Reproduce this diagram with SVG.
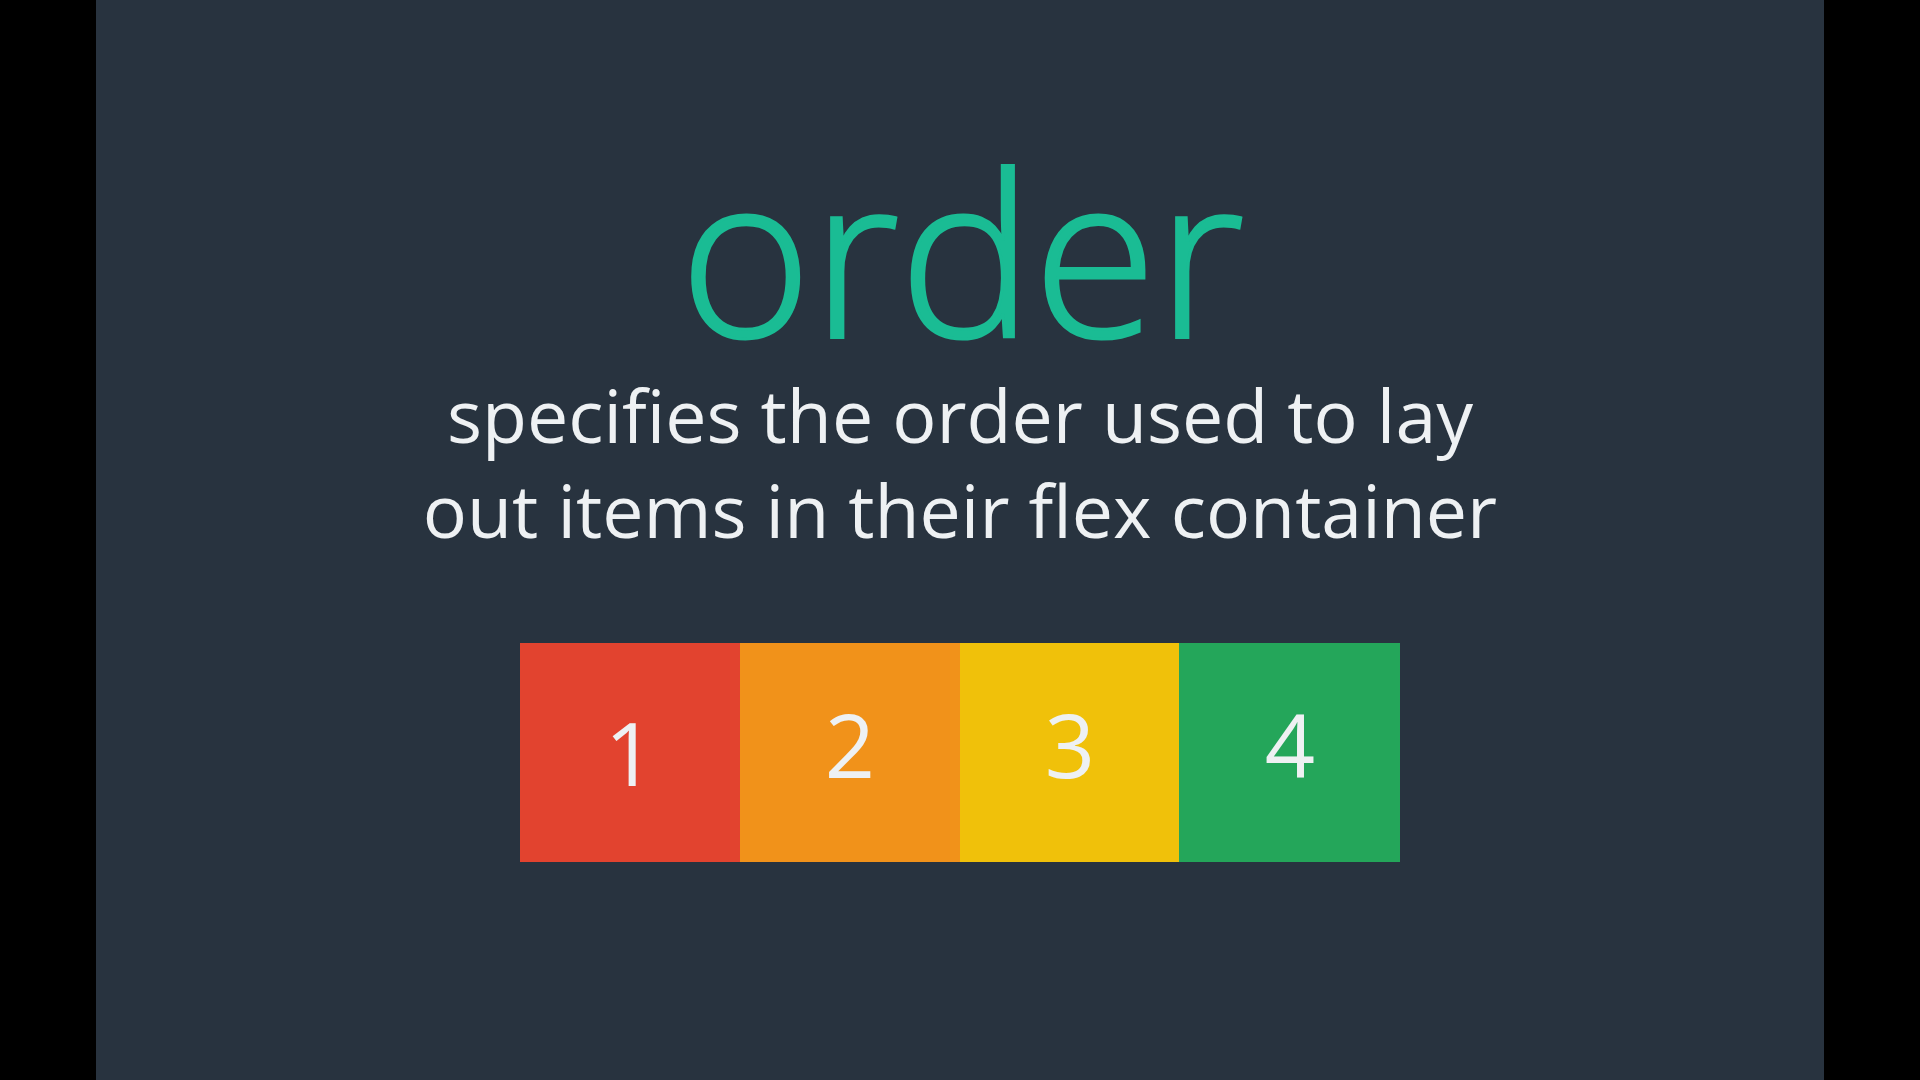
<svg xmlns="http://www.w3.org/2000/svg" width="1920" height="1080" viewBox="0 0 1920 1080">
  <style>
    .title { font-family: "Open Sans", "Liberation Sans", sans-serif; font-weight: 300; font-size: 225px; fill: #1abc94; stroke: #1abc94; stroke-width: 3px; text-anchor: middle; }
    .sub { font-family: "Open Sans", "Liberation Sans", sans-serif; font-weight: 400; font-size: 73.5px; fill: #eef1f3; text-anchor: middle; }
    .num { font-family: "Open Sans", "Liberation Sans", sans-serif; font-weight: 400; font-size: 88px; fill: #eef1f3; text-anchor: middle; }
  </style>
  <rect x="0" y="0" width="1920" height="1080" fill="#000000"/>
  <rect x="96" y="0" width="1728" height="1080" fill="#28333f"/>
  <g id="title"><text class="title" x="962" y="337">order</text></g>
  <g id="description">
    <text class="sub" x="960" y="443">specifies the order used to lay</text>
    <text class="sub" x="960" y="538">out items in their flex container</text>
  </g>
  <g id="item1"><rect x="520" y="643" width="220" height="219" fill="#e2432f"/><text class="num" x="630" y="786">1</text></g>
  <g id="item2"><rect x="740" y="643" width="220" height="219" fill="#f1921a"/><text class="num" x="850" y="778">2</text></g>
  <g id="item3"><rect x="960" y="643" width="219" height="219" fill="#f0c10a"/><text class="num" x="1070" y="778">3</text></g>
  <g id="item4"><rect x="1179" y="643" width="221" height="219" fill="#24a65a"/><text class="num" x="1290" y="778">4</text></g>
  <g id="connectors"/>
</svg>
